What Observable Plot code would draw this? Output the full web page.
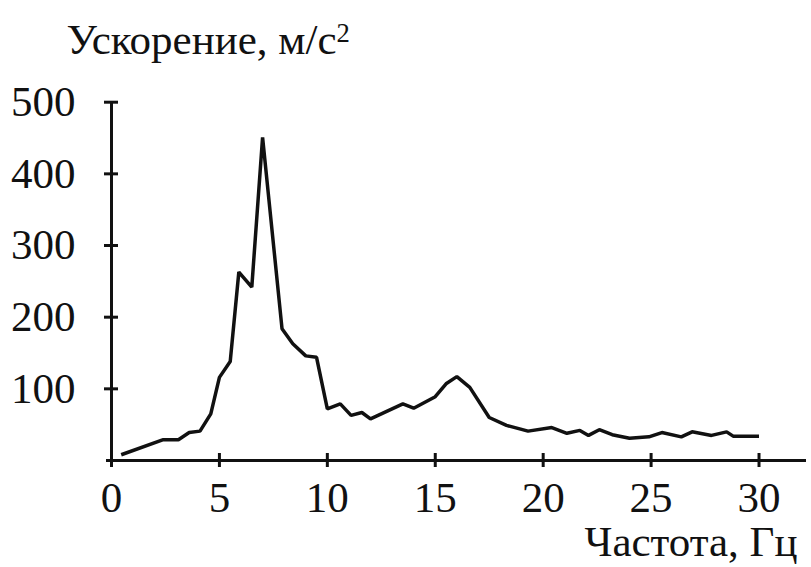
<!DOCTYPE html>
<html>
<head>
<meta charset="utf-8">
<script src="https://cdn.jsdelivr.net/npm/d3@7"></script>
<script src="https://cdn.jsdelivr.net/npm/@observablehq/plot@0.6"></script>
<style>
  html, body { margin: 0; padding: 0; background: #fff; }
  svg { display: block; }
</style>
</head>
<body>
<div id="chart"></div>
<script>
// Frequency, Hz
const freq = [0.45, 2.4, 3.1, 3.6, 4.1, 4.6, 5.0, 5.5, 5.9, 6.5, 7.0, 7.9, 8.4, 9.0, 9.5, 10.0, 10.6, 11.1, 11.6, 12.0, 13.5, 14.0, 15.0, 15.5, 16.0, 16.6, 17.5, 18.3, 19.3, 20.4, 21.1, 21.7, 22.1, 22.6, 23.2, 24.0, 24.9, 25.5, 26.4, 26.9, 27.8, 28.5, 28.8, 30.0];
// Acceleration, m/s^2
const accel = [8, 29, 29, 39, 41, 65, 116, 138, 263, 242, 451, 184, 163, 146, 144, 72, 79, 63, 67, 58, 79, 73, 89, 107, 117, 102, 60, 49, 41, 46, 38, 42, 35, 43, 36, 31, 33, 39, 33, 40, 35, 40, 34, 34];

const xTicks = [0, 5, 10, 15, 20, 25, 30];
const yTicks = [100, 200, 300, 400, 500];
const yTitle = "Ускорение, м/с";
const yTitleSup = "2";
const xTitle = "Частота, Гц";

const data = freq.map((f, i) => ({f, a: accel[i]}));
const ink = "#111";
const fs = 43;

const chart = Plot.plot({
  width: 811,
  height: 567,
  marginLeft: 111,
  marginRight: 5,
  marginTop: 101.7,
  marginBottom: 107,
  style: {fontFamily: "'Liberation Serif', 'Times New Roman', serif", background: "#fff", color: ink},
  x: {domain: [0, 32.2]},
  y: {domain: [0, 500]},
  marks: [
    Plot.axisX({ticks: xTicks, tickSize: 0, tickPadding: 21, fontSize: fs, label: null, fill: ink}),
    Plot.axisY({ticks: yTicks, tickSize: 0, tickPadding: 36, fontSize: fs, label: null, fill: ink}),
    Plot.ruleY([0], {stroke: ink, strokeWidth: 3, insetLeft: -5}),
    Plot.ruleX([0], {y1: 0, y2: 500, stroke: ink, strokeWidth: 3}),
    Plot.ruleX(xTicks, {x: d => d, y1: 0, y2: 0, insetTop: -7, insetBottom: -7, stroke: ink, strokeWidth: 3}),
    Plot.ruleY(yTicks, {y: d => d, x1: 0, x2: 0, insetLeft: -7, insetRight: -7, stroke: ink, strokeWidth: 3}),
    Plot.line(data, {x: "f", y: "a", stroke: ink, strokeWidth: 3.5, strokeLinejoin: "miter", strokeLinecap: "butt"}),
    Plot.text([yTitle], {frameAnchor: "top-left", text: d => d, textAnchor: "start", lineAnchor: "bottom", dx: -45, dy: -48.5, fontSize: fs, fill: ink, className: "ytitle"}),
    Plot.text([xTitle], {frameAnchor: "bottom-right", text: d => d, textAnchor: "end", lineAnchor: "bottom", dx: -9, dy: 95, fontSize: fs, fill: ink})
  ]
});
// superscript for the unit
d3.select(chart).selectAll("g.ytitle text").each(function() {
  const t = d3.select(this);
  t.append("tspan").attr("dy", "-0.45em").attr("font-size", "0.62em").text(yTitleSup);
});
document.getElementById("chart").append(chart);
</script>
</body>
</html>
